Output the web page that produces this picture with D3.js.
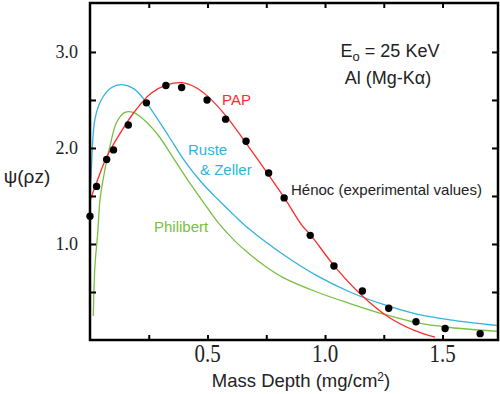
<!DOCTYPE html>
<html>
<head>
<meta charset="utf-8">
<script src="https://cdn.jsdelivr.net/npm/d3@7"></script>
<style>
  body { margin: 0; background: #fff; }
  .sans { font-family: "Liberation Sans", Arial, sans-serif; }
  .serif { font-family: "Liberation Serif", "DejaVu Serif", serif; }
</style>
</head>
<body>
<script>

// mass depth (mg/cm2) / psi(rho z)
var papX = [0,0.028,0.07,0.12,0.19,0.26,0.33,0.39,0.45,0.50,0.58,0.67,0.76,0.83,0.90,0.94,1.04,1.15,1.27,1.38,1.468]
var papY = [1.45,1.64,1.90,2.12,2.38,2.57,2.66,2.68,2.63,2.54,2.33,2.03,1.72,1.47,1.20,1.09,0.77,0.48,0.24,0.10,0.03]

var rusteX = [0,0.004,0.021,0.05,0.092,0.135,0.19,0.234,0.333,0.404,0.475,0.546,0.617,0.68,0.822,0.965,1.106,1.248,1.39,1.532,1.736]
var rusteY = [1.55,1.68,2.30,2.51,2.63,2.66,2.61,2.49,2.13,1.86,1.64,1.46,1.29,1.15,0.89,0.67,0.50,0.37,0.27,0.21,0.15]

var philX = [0.014,0.021,0.033,0.043,0.064,0.085,0.114,0.149,0.184,0.227,0.291,0.348,0.404,0.475,0.546,0.617,0.681,0.75,0.822,0.965,1.106,1.248,1.39,1.532,1.736]
var philY = [0.25,0.77,1.12,1.47,1.78,2.02,2.27,2.37,2.37,2.30,2.13,1.92,1.71,1.46,1.22,1.03,0.89,0.76,0.65,0.50,0.38,0.27,0.18,0.13,0.09]

var henocX = [0,0.028,0.071,0.10,0.163,0.24,0.323,0.39,0.498,0.577,0.664,0.76,0.826,0.937,1.038,1.159,1.271,1.387,1.511,1.66]
var henocY = [1.29,1.60,1.88,1.98,2.24,2.47,2.65,2.63,2.50,2.30,2.07,1.74,1.48,1.09,0.77,0.51,0.33,0.19,0.12,0.066]

var xTicks = [0.25,0.5,0.75,1.0,1.25,1.5]
var xLabels = ["0.5","1.0","1.5"]
var yTicks = [0.5,1.0,1.5,2.0,2.5,3.0]
var yLabels = ["1.0","2.0","3.0"]

var red = "#ff2b2b", blue = "#33b2dd", green = "#76c043";

var svg = d3.select("body").append("svg")
            .attr("width", 500)
            .attr("height", 394);

var x = d3.scaleLinear().domain([0, 1.736]).range([90, 498]);
var y = d3.scaleLinear().domain([0, 3.51]).range([340, 3]);

var toPts = function(xs, ys) {
  return xs.map(function(v, i) { return [v, ys[i]]; });
}

var line = d3.line()
             .x(function(d) { return x(d[0]); })
             .y(function(d) { return y(d[1]); })
             .curve(d3.curveCatmullRom.alpha(0.5));

svg.append("clipPath").attr("id", "plot")
   .append("rect").attr("x", 90).attr("y", 3).attr("width", 408).attr("height", 337);

var plot = svg.append("g").attr("clip-path", "url(#plot)");

[[philX, philY, green], [rusteX, rusteY, blue], [papX, papY, red]].forEach(function(s) {
  plot.append("path")
      .datum(toPts(s[0], s[1]))
      .attr("d", line)
      .attr("fill", "none")
      .attr("stroke", s[2])
      .attr("stroke-width", 1.3);
});

svg.append("g").selectAll("circle")
   .data(toPts(henocX, henocY))
   .join("circle")
   .attr("cx", function(d) { return x(d[0]); })
   .attr("cy", function(d) { return y(d[1]); })
   .attr("r", 3.7)
   .attr("fill", "#000");

// axes: ticks only, pointing inward
var gb = svg.append("g").attr("transform", "translate(0,340)")
            .call(d3.axisBottom(x).tickValues(xTicks).tickSize(-5).tickFormat(""));
var gt = svg.append("g").attr("transform", "translate(0,3)")
            .call(d3.axisTop(x).tickValues(xTicks).tickSize(-5).tickFormat(""));
var gl = svg.append("g").attr("transform", "translate(90,0)")
            .call(d3.axisLeft(y).tickValues(yTicks).tickSize(-6).tickFormat(""));
var gr = svg.append("g").attr("transform", "translate(498,0)")
            .call(d3.axisRight(y).tickValues(yTicks).tickSize(-6).tickFormat(""));

[gb, gt, gl, gr].forEach(function(g) {
  g.select(".domain").remove();
  g.selectAll(".tick line").attr("stroke-width", 2);
});

// tick labels, serif like the original (x ones are a bit stretched)
svg.append("g").selectAll("text")
   .data(xLabels)
   .join("text")
   .attr("class", "serif")
   .attr("transform", function(d) { return "translate(" + x(+d) + ",362) scale(1,1.15)"; })
   .attr("text-anchor", "middle")
   .attr("font-size", 21)
   .attr("fill", "#222")
   .text(function(d) { return d; });

svg.append("g").selectAll("text")
   .data(yLabels)
   .join("text")
   .attr("class", "serif")
   .attr("x", 78)
   .attr("y", function(d) { return y(+d) + 6; })
   .attr("text-anchor", "end")
   .attr("font-size", 18)
   .attr("fill", "#222")
   .text(function(d) { return d; });

svg.append("rect")
   .attr("x", 90).attr("y", 3).attr("width", 408).attr("height", 337)
   .attr("fill", "none").attr("stroke", "#000").attr("stroke-width", 2.5);

// titles
var xt = svg.append("text").attr("class", "sans").attr("x", 301).attr("y", 387)
            .attr("text-anchor", "middle").attr("font-size", 18.5).attr("fill", "#222");
xt.append("tspan").text("Mass Depth (mg/cm");
xt.append("tspan").attr("dy", -6).attr("font-size", 12).text("2");
xt.append("tspan").attr("dy", 6).text(")");

svg.append("text").attr("class", "sans").attr("x", 27).attr("y", 183)
   .attr("text-anchor", "middle").attr("font-size", 19).attr("fill", "#222")
   .text("\u03c8(\u03c1z)");

var e0 = svg.append("text").attr("class", "sans").attr("x", 390).attr("y", 57)
            .attr("text-anchor", "middle").attr("font-size", 18).attr("fill", "#222");
e0.append("tspan").text("E");
e0.append("tspan").attr("dy", 4).attr("font-size", 13).text("o");
e0.append("tspan").attr("dy", -4).text(" = 25 KeV");

svg.append("text").attr("class", "sans").attr("x", 388).attr("y", 84)
   .attr("text-anchor", "middle").attr("font-size", 18).attr("fill", "#222")
   .text("Al (Mg-K\u03b1)");

// curve labels
var lab = function(tx, ty, col, s) {
  svg.append("text").attr("class", "sans").attr("x", tx).attr("y", ty)
     .attr("font-size", 15).attr("fill", col).text(s);
}
lab(222, 105, red, "PAP");
lab(188, 155, blue, "Ruste");
lab(200, 175, blue, "& Zeller");
lab(154, 232, green, "Philibert");
lab(291, 195, "#222", "H\u00e9noc (experimental values)");

</script>
</body>
</html>
